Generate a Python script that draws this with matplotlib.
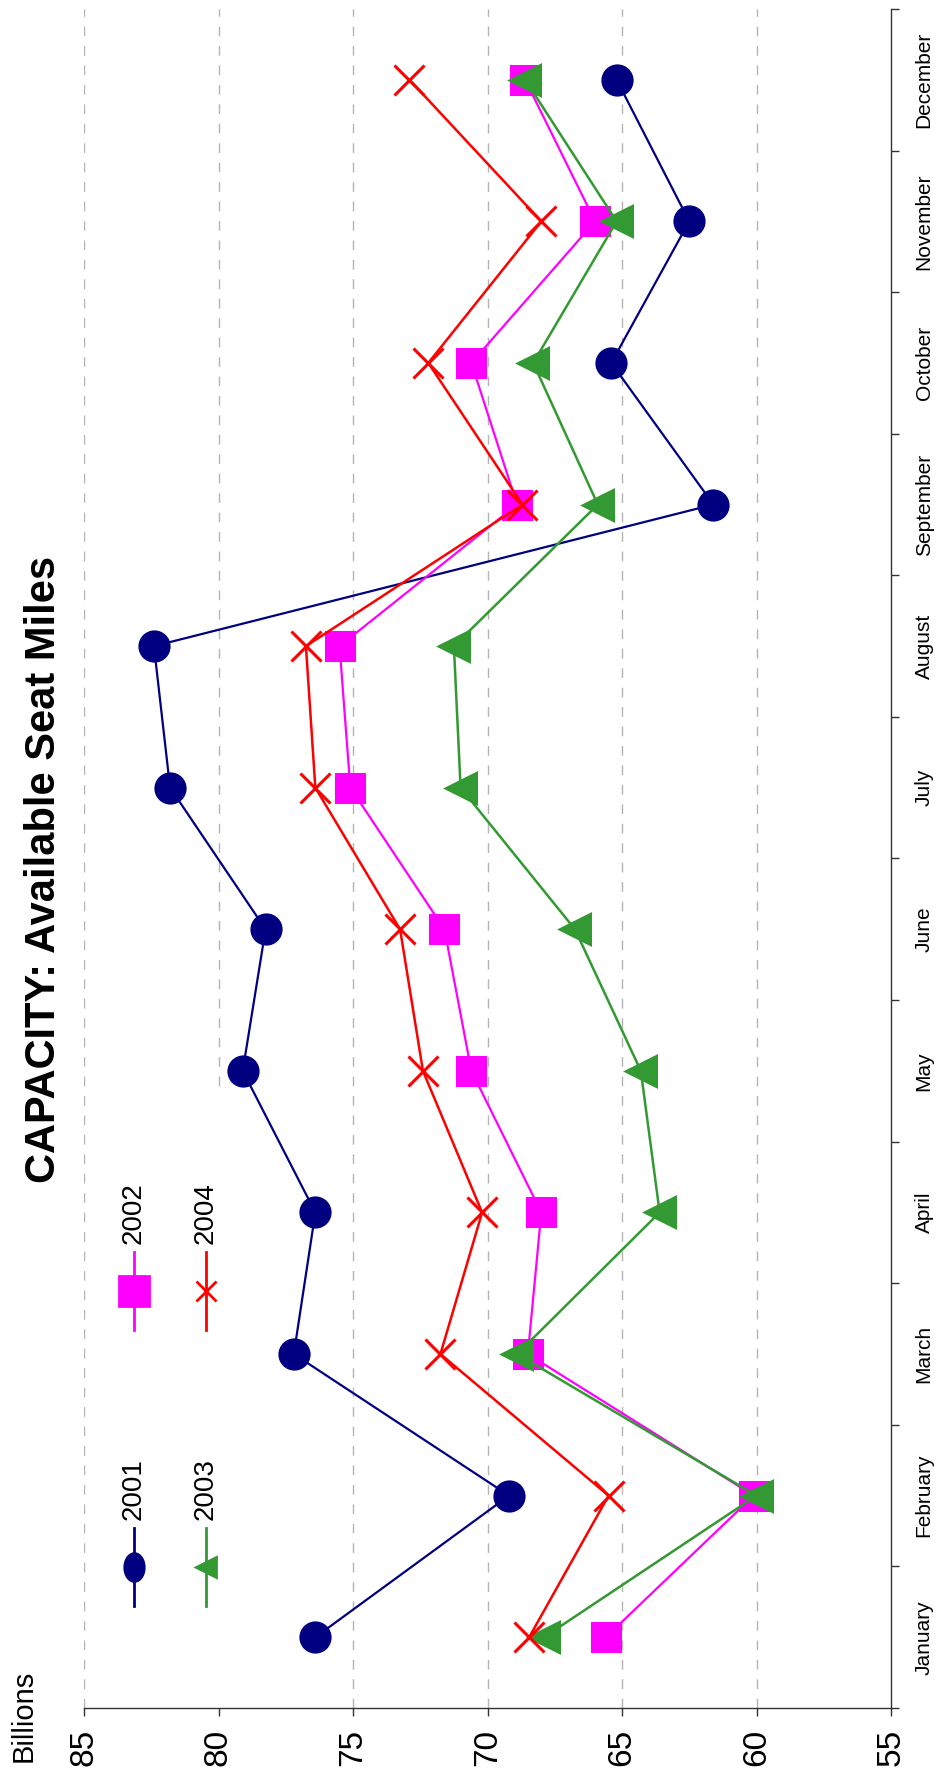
import numpy as np
import matplotlib.pyplot as plt
from matplotlib.patches import Rectangle
from matplotlib.lines import Line2D
from matplotlib.path import Path

# monthly available seat miles, billions
months = ["January", "February", "March", "April", "May", "June", "July",
          "August", "September", "October", "November", "December"]
asm_2001 = [76.4, 69.2, 77.2, 76.4, 79.1, 78.25, 81.8, 82.4, 61.6, 65.4, 62.5, 65.2]
asm_2002 = [65.6, 60.1, 68.5, 68.0, 70.6, 71.6, 75.1, 75.5, 68.9, 70.6, 66.0, 68.6]
asm_2003 = [67.9, 60.0, 68.9, 63.6, 64.3, 66.75, 71.0, 71.25, 65.9, 68.3, 65.2, 68.6]
asm_2004 = [68.45, 65.5, 71.75, 70.2, 72.4, 73.25, 76.4, 76.75, 68.7, 72.2, 68.0, 72.9]
value_ticks = [85, 80, 75, 70, 65, 60, 55]

plt.rcParams['font.family'] = ['Liberation Sans', 'DejaVu Sans']

W, H = 948, 1776
fig = plt.figure(figsize=(W / 100, H / 100), dpi=100)


def fx(px):
    return px / W


def fy(py):
    return 1 - py / H


# the whole chart is laid on its side: values run right-to-left, months bottom-to-top
ax = fig.add_axes([fx(84), fy(1708), fx(891) - fx(84), fy(9) - fy(1708)])
ax.set_xlim(85, 55)
ax.set_ylim(-0.5, 11.5)

for v in value_ticks[:-1]:
    ax.axvline(v, color="#b4b4b4", lw=1.0, ls=(0, (7, 7)), zorder=0)

# white legend backing hides the gridline behind it
ax.add_patch(Rectangle(((92 - 84) / 807, 0), (246 - 92) / 807, (1708 - 1087) / 1699,
                       transform=ax.transAxes, facecolor="white", edgecolor="none", zorder=1))

pos = np.arange(len(months))
series = [
    ("2001", asm_2001, "#000080", "o", 21, 1.6),
    ("2002", asm_2002, "#ff00ff", "s", 20, 1.6),
    ("2003", asm_2003, "#339933", "<", 22, 1.8),
    ("2004", asm_2004, "#ff0000", "x", 22, 1.8),
]
for name, vals, col, mk, ms, lw in series:
    ax.plot(vals, pos, color=col, lw=lw, marker=mk, ms=ms, mew=2.2,
            mfc=col, mec=col, zorder=3)

for s in ["left", "top"]:
    ax.spines[s].set_visible(False)
for s in ["right", "bottom"]:
    ax.spines[s].set_color("#333333")
    ax.spines[s].set_linewidth(1.0)

ax.set_xticks(value_ticks)
ax.set_xticklabels([str(v) for v in value_ticks], rotation=90, fontsize=24)
ax.tick_params(axis="x", direction="out", length=6, width=1, color="#333333", pad=9)

ax.yaxis.tick_right()
ax.set_yticks(np.arange(-0.5, 12, 1.0))
ax.set_yticklabels([])
ax.set_yticks(pos, minor=True)
ax.set_yticklabels(months, minor=True, rotation=90, fontsize=15, va="center", ha="left")
ax.tick_params(axis="y", which="major", direction="out", length=6, width=1, color="#333333")
ax.tick_params(axis="y", which="minor", length=0, pad=17)

fig.text(fx(44), fy(869), "CAPACITY: Available Seat Miles", rotation=90,
         fontsize=30, fontweight="bold", ha="center", va="center")
fig.text(fx(24), fy(1762), "Billions", rotation=90, fontsize=21, ha="center", va="bottom")

# narrow ellipse for the legend's circle key
t = np.linspace(0, 2 * np.pi, 60)
ellipse = Path(np.column_stack([0.7 * np.cos(t), np.sin(t)]), closed=True)
legend_marks = {"o": (ellipse, 20), "s": ("s", 21), "<": ("<", 14), "x": ("x", 15)}

# legend, two rows of two entries each
legend_pos = {"2001": (134, 1567), "2002": (134, 1291), "2003": (206, 1567), "2004": (206, 1291)}
for name, vals, col, mk, ms, lw in series:
    x, y = legend_pos[name]
    lmk, lms = legend_marks[mk]
    fig.add_artist(Line2D([fx(x), fx(x)], [fy(y + 39), fy(y - 39)], color=col, lw=2,
                          transform=fig.transFigure))
    fig.add_artist(Line2D([fx(x)], [fy(y)], color=col, marker=lmk, ms=lms,
                          mew=2, mfc=col, mec=col, transform=fig.transFigure))
    fig.text(fx(x), fy(y - 47), name, rotation=90, fontsize=20, ha="center", va="bottom")

fig.savefig("out.png", dpi=100)
